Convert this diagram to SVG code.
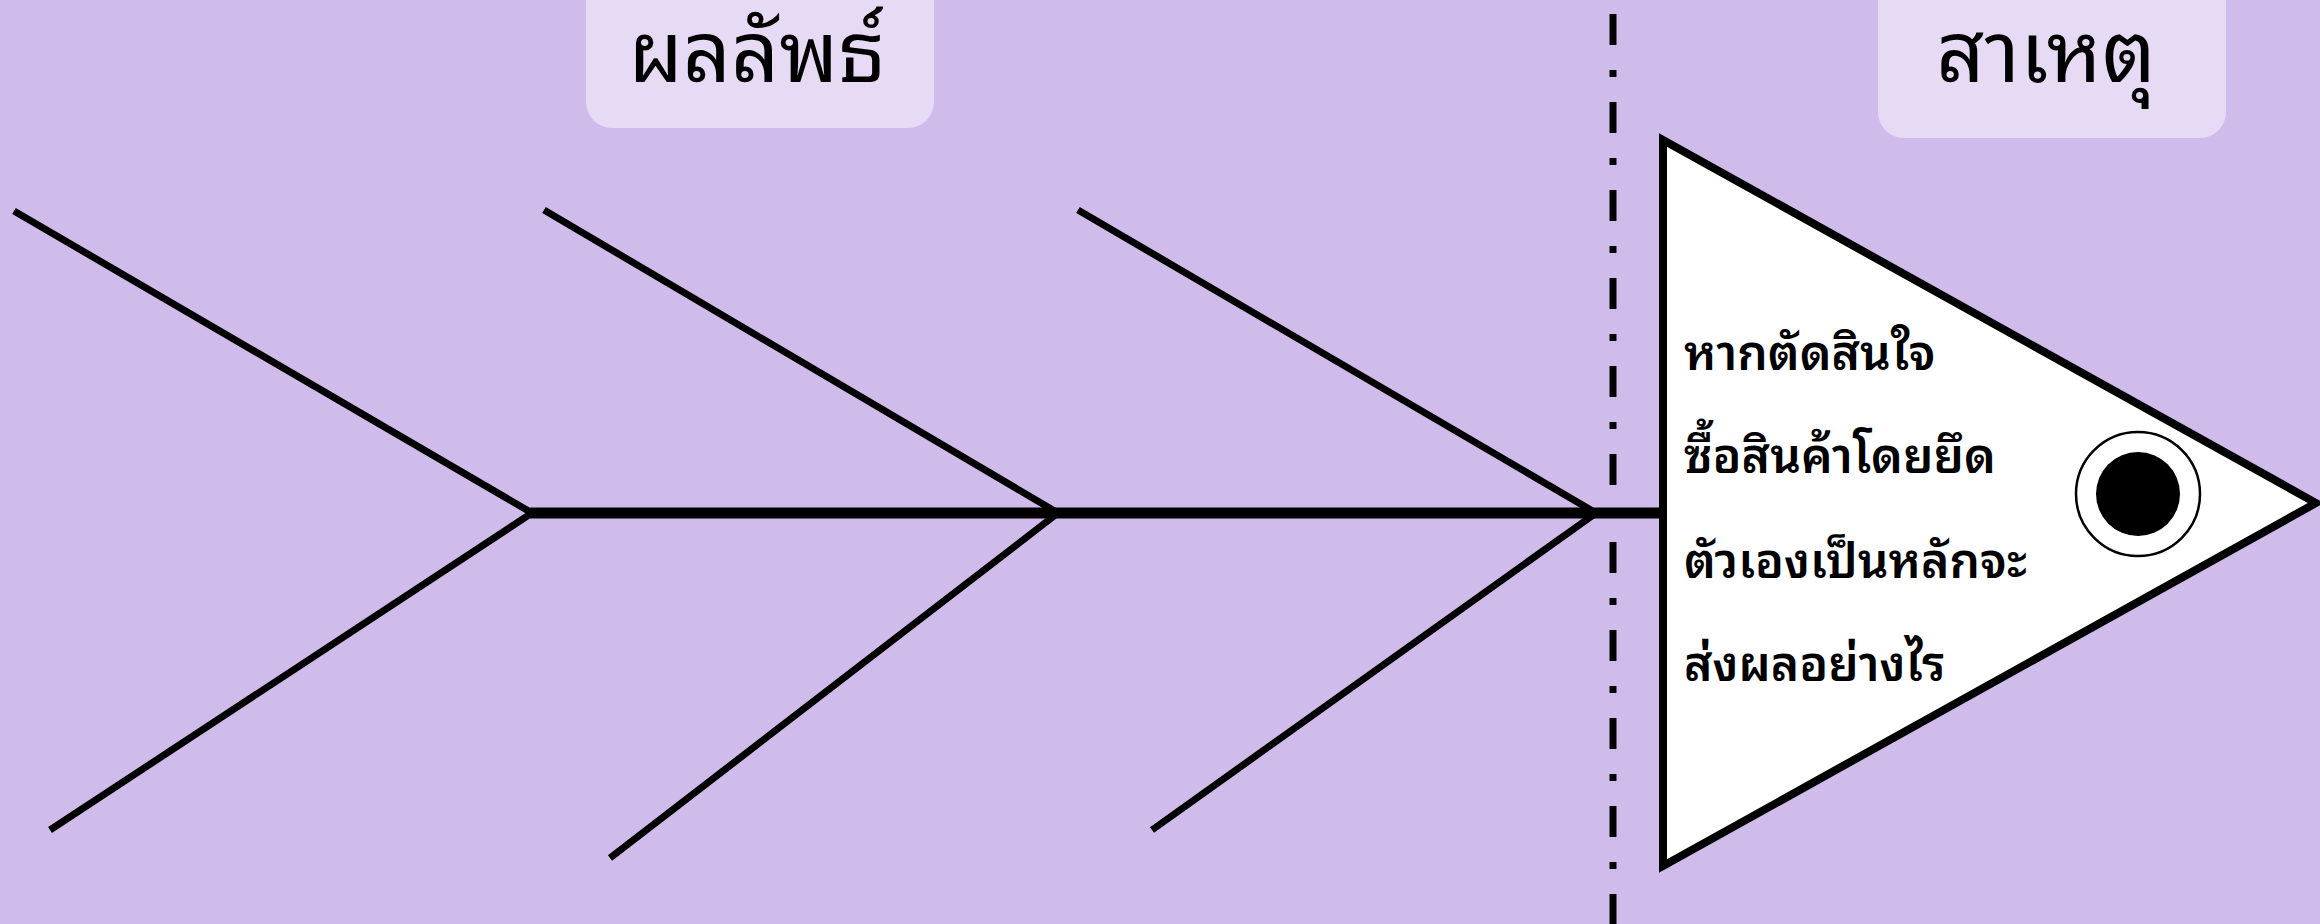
<svg xmlns="http://www.w3.org/2000/svg" width="2320" height="924" viewBox="0 0 2320 924">
  <style>
    .bone { stroke: #000; stroke-width: 7; fill: none; stroke-linecap: butt; }
    .spine { stroke: #000; stroke-width: 11; fill: none; }
    .dash { stroke: #000; stroke-width: 7; fill: none; stroke-dasharray: 31 25 7 25; }
    .label-box { fill: #E6DAF5; }
    .title { font-family: "Noto Sans Thai Looped", "Noto Sans Thai", "Noto Sans", sans-serif; font-size: 84px; font-weight: 400; fill: #000; text-anchor: middle; }
    .body { font-family: "Noto Sans Thai Looped", "Noto Sans Thai", "Noto Sans", sans-serif; font-size: 48px; font-weight: 600; fill: #000; }
  </style>
  <rect x="0" y="0" width="2320" height="924" fill="#D0BCEB"/>

  <g id="label-effect">
    <rect class="label-box" x="586" y="-40" width="348" height="168" rx="26"/>
    <text class="title" x="757" y="82">ผลลัพธ์</text>
  </g>
  <g id="label-cause">
    <rect class="label-box" x="1878" y="-40" width="348" height="178" rx="26"/>
    <text class="title" x="2046" y="82">สาเหตุ</text>
  </g>

  <g id="divider">
    <line class="dash" x1="1613" y1="-74" x2="1613" y2="930"/>
  </g>

  <g id="connectors">
    <line class="spine" x1="530" y1="513" x2="1663" y2="513"/>
    <polyline class="bone" points="14,211 532,513 50,830"/>
    <polyline class="bone" points="544,210 1058,513 610,858"/>
    <polyline class="bone" points="1078,210 1596,513 1152,830"/>
  </g>

  <g id="head">
    <polygon points="1663,140 2316,503 1663,866" fill="#FFFFFF" stroke="#000" stroke-width="8" stroke-linejoin="miter"/>
    <circle cx="2138" cy="494" r="62" fill="#FFFFFF" stroke="#000" stroke-width="2.5"/>
    <circle cx="2138" cy="494" r="42" fill="#000"/>
    <text class="body" x="1684" y="370">หากตัดสินใจ</text>
    <text class="body" x="1684" y="473">ซื้อสินค้าโดยยึด</text>
    <text class="body" x="1684" y="578">ตัวเองเป็นหลักจะ</text>
    <text class="body" x="1684" y="681">ส่งผลอย่างไร</text>
  </g>
</svg>
